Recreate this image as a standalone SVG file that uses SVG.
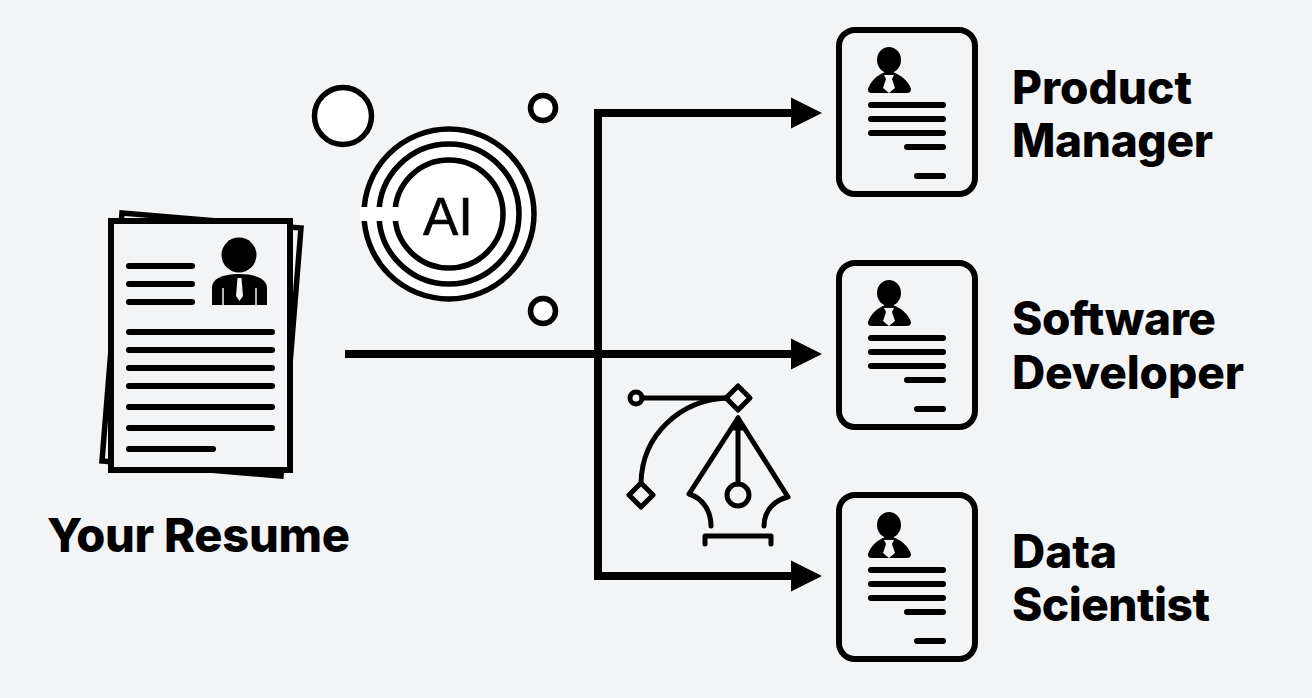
<svg xmlns="http://www.w3.org/2000/svg" width="1312" height="698" viewBox="0 0 1312 698">
<style>
.lbl{font-family:Inter,"Liberation Sans",Arial,sans-serif;font-weight:800;font-size:46px;fill:#000}
.ln{stroke:#000;stroke-width:6;stroke-linecap:round;fill:none}
.conn{stroke:#000;stroke-width:8;fill:none}
.ring{stroke:#000;stroke-width:5.500;fill:#fff}
.pen{stroke:#000;stroke-width:5;fill:none;stroke-linecap:round;stroke-linejoin:round}
</style>
<defs>
<marker id="arrow" markerUnits="userSpaceOnUse" markerWidth="32" markerHeight="32" refX="0" refY="16" orient="auto"><path d="M0 0.500L31 16L0 31.500Z" fill="#000"/></marker>
<g id="card">
<rect x="839" y="30" width="136" height="164" rx="16" fill="none" stroke="#000" stroke-width="6"/>
<ellipse cx="889" cy="60" rx="12" ry="13" fill="#000"/>
<path d="M868 89C871 80 878 75 885 72H893C900 75 908 80 911 89C911 92 909 93 907 93H872C869 93 868 92 868 89Z" fill="#000"/>
<path d="M884 75L894 75L892 79L895 88L889 93L883 88L886 79Z" fill="#f3f4f6"/>
<path class="ln" d="M871 105H943M871 119H943M871 133H943M907 147H943M917 176H943"/>
</g>
</defs>
<rect width="1312" height="698" fill="#f3f4f6"/>
<g id="connectors">
<path class="conn" d="M345 354H791" marker-end="url(#arrow)"/>
<path class="conn" d="M598 117V113H791" marker-end="url(#arrow)"/>
<path class="conn" d="M598 109V576H791" marker-end="url(#arrow)"/>
</g>
<g id="resume">
<path d="M122 213L301 228L281 476L102 461Z" fill="none" stroke="#000" stroke-width="5.500"/>
<rect x="111" y="221" width="179" height="249" fill="#f3f4f6" stroke="#000" stroke-width="6"/>
<circle cx="239" cy="255" r="17.500" fill="#000"/>
<path d="M212 305V288C212 279 222 274 239 274C256 274 267 279 267 288V305Z" fill="#000"/>
<path d="M237.500 278H241.500L243 296L239.500 301L236 296Z" fill="#f3f4f6"/>
<path d="M223 288V305M256 288V305" stroke="#f3f4f6" stroke-width="1.500"/>
<path class="ln" d="M129 266H192M129 284H192M129 302H192M129 332H272M129 350H272M129 368H272M129 386H272M129 407H272M129 428H272M129 449H213"/>
<text class="lbl" x="47" y="552" style="font-size:47px" textLength="303">Your Resume</text>
</g>
<g id="ai">
<circle class="ring" cx="343" cy="116" r="28.500"/>
<circle class="ring" cx="543" cy="108" r="12.500"/>
<circle class="ring" cx="543" cy="311" r="12.500"/>
<circle class="ring" cx="449" cy="214" r="85"/>
<circle class="ring" cx="449" cy="214" r="70"/>
<circle class="ring" cx="449" cy="214" r="54"/>
<rect x="360" y="207" width="38" height="14" fill="#fff"/>
<text x="448" y="235" text-anchor="middle" font-family="Liberation Sans,Arial,sans-serif" font-size="53" stroke="#000" stroke-width="0.600">AI</text>
</g>
<g id="pen-tool" class="pen">
<circle cx="636" cy="398" r="6"/>
<path d="M642 398H727"/>
<path d="M738 386L750 398L738 410L726 398Z"/>
<path d="M727 398C680 400 642 435 641 483"/>
<path d="M641 483L653 495L641 507L629 495Z"/>
<path d="M738 418L689 494C702 498 711 510 711 526M738 418L788 497C775 500 764 510 764 526"/>
<path d="M738 418V484"/>
<path d="M738 419L733 428H743Z" fill="#000"/>
<circle cx="738" cy="495" r="11"/>
<path d="M705 544V536H771V544"/>
</g>
<g id="card-product"><use href="#card"/>
<text class="lbl" x="1012" y="104" textLength="180">Product</text><text class="lbl" x="1012" y="157" textLength="201">Manager</text></g>
<g id="card-software"><use href="#card" y="233"/>
<text class="lbl" x="1012" y="335" textLength="204">Software</text><text class="lbl" x="1012" y="389" textLength="232">Developer</text></g>
<g id="card-data"><use href="#card" y="465"/>
<text class="lbl" x="1012" y="568" textLength="105">Data</text><text class="lbl" x="1012" y="621" textLength="198">Scientist</text></g>
</svg>
